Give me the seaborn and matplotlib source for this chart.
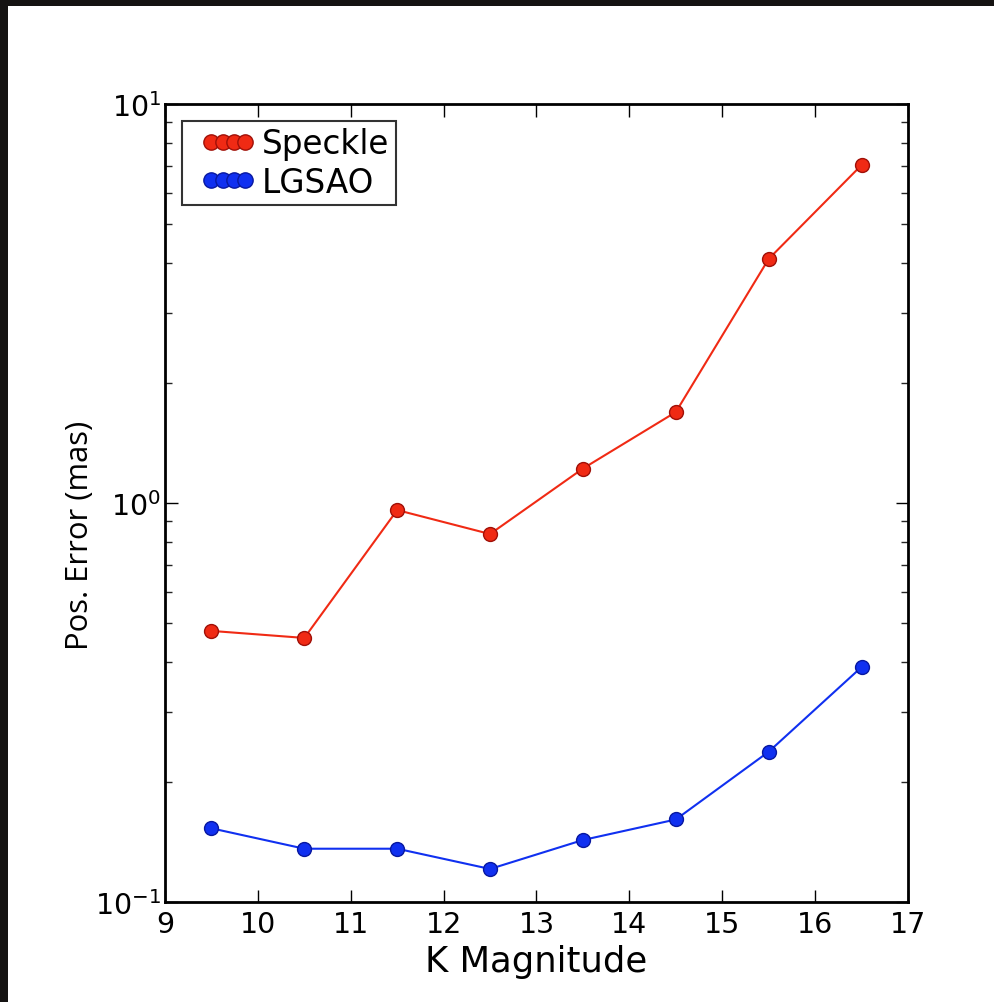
import matplotlib
matplotlib.use("Agg")
import matplotlib.pyplot as plt
import seaborn as sns
import pandas as pd
from matplotlib.patches import Rectangle
from matplotlib.lines import Line2D
from matplotlib.legend_handler import HandlerLine2D

# Data
k_mag = [9.5, 10.5, 11.5, 12.5, 13.5, 14.5, 15.5, 16.5]
speckle = [0.478, 0.459, 0.96, 0.836, 1.22, 1.69, 4.09, 7.03]
lgsao = [0.153, 0.136, 0.136, 0.121, 0.143, 0.161, 0.238, 0.388]
series_names = ["Speckle", "LGSAO"]
x_ticks = [9, 10, 11, 12, 13, 14, 15, 16, 17]

df = pd.DataFrame({
    "K": k_mag * 2,
    "err": speckle + lgsao,
    "series": [series_names[0]] * len(k_mag) + [series_names[1]] * len(k_mag),
})

sns.set_style("ticks")
plt.rcParams["font.family"] = ["DejaVu Sans"]
plt.rcParams["text.color"] = "black"
plt.rcParams["axes.labelcolor"] = "black"
plt.rcParams["axes.unicode_minus"] = False

fig = plt.figure(figsize=(9.95, 10.03), dpi=100)
fig.patch.set_facecolor("#151312")
fig.patches.append(Rectangle((8 / 995, 0), 1, 1 - 7 / 1003, transform=fig.transFigure,
                             facecolor="white", edgecolor="none", zorder=-10))

ax = fig.add_axes([165 / 995, 1 - 903 / 1003, 743 / 995, 798 / 1003])
ax.set_facecolor("white")

palette = {"Speckle": "#f02a14", "LGSAO": "#1030f0"}
edge = {"Speckle": "#a01008", "LGSAO": "#0818a0"}

sns.lineplot(data=df, x="K", y="err", hue="series", palette=palette, ax=ax,
             marker="o", markersize=10, linewidth=1.5, legend=False)
for line, name in zip(ax.get_lines(), series_names):
    line.set_markeredgecolor(edge[name])
    line.set_markeredgewidth(1.0)
    line.set_label(name)

ax.set_yscale("log")
ax.set_ylim(0.1, 10)
ax.set_xlim(9, 17)
ax.set_xticks(x_ticks)
ax.set_xticklabels([str(t) for t in x_ticks])

ax.tick_params(axis="both", which="major", direction="in", length=9, width=1,
               top=True, right=True, labelsize=20.5, colors="black")
ax.tick_params(axis="x", which="major", pad=6)
ax.tick_params(axis="y", which="major", pad=3)
ax.tick_params(axis="y", which="minor", direction="in", length=5, width=1,
               left=True, right=True)
for s in ax.spines.values():
    s.set_linewidth(2)
    s.set_color("black")

ax.set_xlabel("K Magnitude", fontsize=25.5, labelpad=4, color="black")
ax.set_ylabel("Pos. Error (mas)", fontsize=22.3, color="black",
              family=["Open Sans", "DejaVu Sans"])
ax.yaxis.set_label_coords(-0.094, 0.461)

leg = ax.legend(handles=ax.get_lines(), labels=series_names, loc="upper left",
                numpoints=4, handlelength=2.44, handletextpad=-0.2, fontsize=23.5,
                frameon=True, fancybox=False, borderpad=0.2, labelspacing=0.16,
                borderaxespad=0.52, markerscale=1.1,
                handler_map={Line2D: HandlerLine2D(marker_pad=0.7)})
leg.get_frame().set_edgecolor("black")
leg.get_frame().set_linewidth(1.5)
for t in leg.get_texts():
    t.set_color("black")

fig.savefig("out.png", dpi=100, facecolor=fig.get_facecolor())
